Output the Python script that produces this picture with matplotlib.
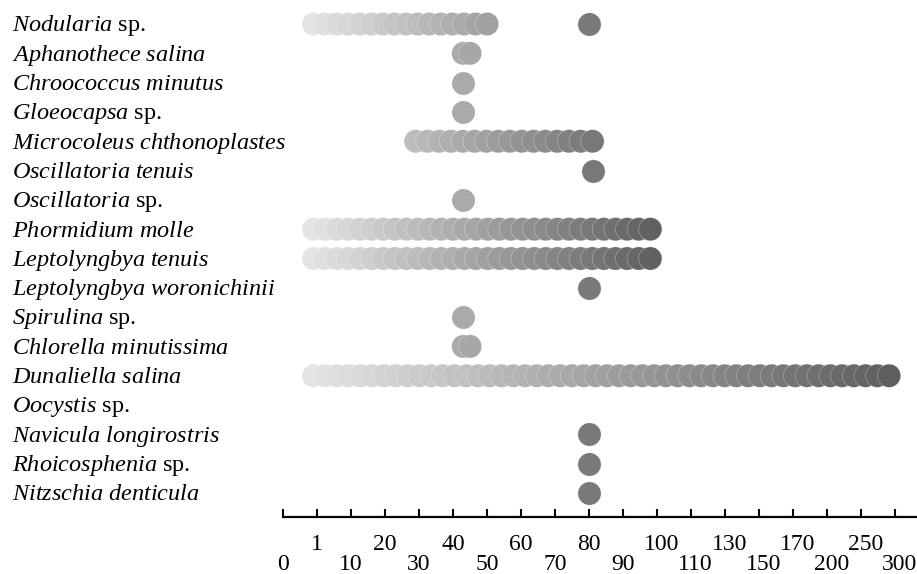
import numpy as np
import matplotlib
matplotlib.use('Agg')
import matplotlib.pyplot as plt
from matplotlib.transforms import blended_transform_factory, ScaledTranslation

plt.rcParams['font.family'] = 'Liberation Serif'
plt.rcParams['mathtext.fontset'] = 'custom'
plt.rcParams['mathtext.it'] = 'Liberation Serif:italic'
plt.rcParams['mathtext.rm'] = 'Liberation Serif'

species = [
    "Nodularia sp.", "Aphanothece salina", "Chroococcus minutus", "Gloeocapsa sp.",
    "Microcoleus chthonoplastes", "Oscillatoria tenuis", "Oscillatoria sp.",
    "Phormidium molle", "Leptolyngbya tenuis", "Leptolyngbya woronichinii",
    "Spirulina sp.", "Chlorella minutissima", "Dunaliella salina", "Oocystis sp.",
    "Navicula longirostris", "Rhoicosphenia sp.", "Nitzschia denticula",
]

# salinity ranges (one row may have several segments)
seg_row = [0, 0, 1, 2, 3, 4, 5, 6, 7, 8, 9, 10, 11, 12, 14, 15, 16]
seg_lo = [0.9, 80, 43, 43, 43, 29, 81, 43, 0.9, 0.9, 80, 43, 43, 0.9, 80, 80, 80]
seg_hi = [50, 80, 45, 43, 43, 81, 81, 43, 98, 98, 80, 43, 45, 291, 80, 80, 80]

tick_vals = [0, 1, 10, 20, 30, 40, 50, 60, 70, 80, 90, 100, 110, 130, 150, 170, 200, 250, 300]
tick_idx = np.arange(len(tick_vals), dtype=float)


def forward(v):
    v = np.asarray(v, dtype=float)
    out = np.interp(v, tick_vals, tick_idx)
    out = np.where(v > tick_vals[-1], tick_idx[-1] + (v - tick_vals[-1]) / 50.0, out)
    return np.where(v < 0, v, out)


def inverse(p):
    p = np.asarray(p, dtype=float)
    out = np.interp(p, tick_idx, tick_vals)
    out = np.where(p > tick_idx[-1], tick_vals[-1] + (p - tick_idx[-1]) * 50.0, out)
    return np.where(p < 0, p, out)


fig = plt.figure(figsize=(9.17, 5.74), dpi=100)
ax = fig.add_axes([283 / 917, 1 - 517 / 574, 1 - 283 / 917, 517 / 574])
ax.set_xscale('function', functions=(forward, inverse))

step = 0.345  # dot spacing in tick units
for row, lo, hi in zip(seg_row, seg_lo, seg_hi):
    p0, p1 = float(forward(lo)), float(forward(hi))
    n = max(1, int(round((p1 - p0) / step)) + 1)
    ps = np.linspace(p0, p1, n)
    grad_end = float(forward(max(100, hi)))
    g = np.clip(0.89 - 0.52 * (ps - 1) / (grad_end - 1), 0.36, 0.9)
    cols = [(c, c, c) for c in g]
    ax.scatter(inverse(ps), np.full(n, row), s=280, c=cols,
               edgecolors=(1, 1, 1, 0.45), linewidths=0.4, zorder=3, clip_on=False)

ax.set_xlim(0, 332)
ax.set_ylim(len(species) - 1 + 0.82, -0.82)

ax.set_xticks(tick_vals)
ax.set_xticklabels([("\n" if i % 2 == 0 else "") + str(v) for i, v in enumerate(tick_vals)],
                   fontsize=17, linespacing=0.98)
ax.xaxis.set_minor_locator(matplotlib.ticker.NullLocator())
ax.tick_params(axis='x', direction='in', length=6, width=1.5, pad=12)
# labels on the right half sit a little right of their ticks
for i, lab in enumerate(ax.get_xticklabels()):
    if i >= 11:
        lab.set_transform(lab.get_transform() + ScaledTranslation(4 / 100, 0, fig.dpi_scale_trans))
ax.set_yticks([])
for s in ['left', 'top', 'right']:
    ax.spines[s].set_visible(False)
ax.spines['bottom'].set_linewidth(1.6)

tr = blended_transform_factory(fig.transFigure, ax.transData)
for i, name in enumerate(species):
    if name.endswith(" sp."):
        label = r"$\mathit{" + name[:-4].replace(" ", r"\ ") + "}$ sp."
    else:
        label = r"$\mathit{" + name.replace(" ", r"\ ") + "}$"
    ax.text(12 / 917, i + 0.25, label, transform=tr, fontsize=17.5,
            ha='left', va='baseline')

fig.savefig("out.png", dpi=100)
